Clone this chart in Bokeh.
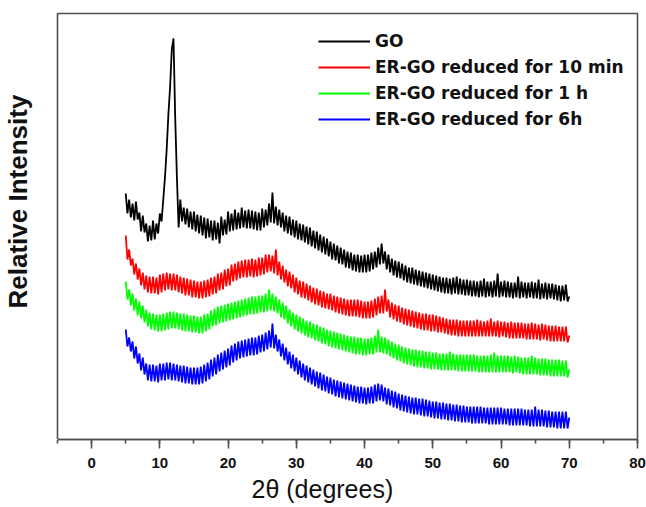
import numpy as np
from bokeh.plotting import figure
from bokeh.models import (Range1d, SingleIntervalTicker, FixedTicker, Legend,
                          LegendItem, Title, ColumnDataSource)
from bokeh.embed import file_html
from bokeh.resources import INLINE

# ---------------- data (arbitrary intensity units) ----------
series_names = ["GO", "ER-GO reduced for 10 min", "ER-GO reduced for 1 h",
                "ER-GO reduced for 6h"]
series_colors = ["#000000", "#ff0000", "#00ff00", "#0000ff"]

# 2theta sampling: 5.00, 5.25, ... 70.00 (one group of four = one degree)
two_theta_start = 5.0
two_theta_step = 0.25

go_y = [
    246, 226, 240, 222,  236, 219, 238, 220,  227, 208, 224, 207,  216, 198, 214, 199,  219, 200, 216, 206,
    226, 218, 240, 262,  290, 325, 352, 390,  401, 322, 262, 212,  240, 218, 232, 215,  231, 212, 228, 210,
    228, 208, 225, 206,  224, 204, 222, 201,  221, 202, 219, 199,  219, 200, 217, 196,  223, 204, 220, 205,
    228, 208, 226, 209,  230, 210, 227, 211,  232, 212, 229, 211,  230, 211, 229, 210,  228, 209, 227, 209,
    231, 212, 230, 214,  236, 217, 247, 216,  233, 214, 230, 212,  227, 208, 224, 206,  223, 204, 220, 202,
    219, 200, 216, 199,  215, 197, 213, 195,  212, 193, 209, 191,  208, 189, 205, 187,  203, 185, 201, 183,
    198, 180, 196, 179,  194, 176, 192, 175,  190, 172, 188, 171,  187, 169, 185, 168,  185, 167, 184, 167,
    185, 167, 185, 168,  187, 170, 188, 172,  192, 175, 196, 176,  188, 170, 185, 167,  181, 164, 179, 162,
    178, 161, 176, 159,  174, 157, 172, 156,  172, 155, 170, 154,  169, 153, 168, 152,  167, 151, 166, 150,
    165, 149, 164, 148,  163, 147, 162, 146,  162, 146, 161, 145,  162, 146, 163, 145,  161, 145, 160, 144,
    160, 144, 159, 143,  159, 143, 158, 142,  159, 143, 161, 142,  158, 143, 158, 142,  159, 143, 166, 142,
    158, 143, 159, 142,  158, 142, 157, 141,  157, 142, 163, 141,  158, 142, 157, 141,  157, 142, 158, 141,
    157, 141, 160, 140,  156, 141, 157, 140,  156, 141, 156, 140,  155, 139, 154, 138,  154, 139, 155, 138,
    143]

red_y = [
    204, 180, 190, 174,  181, 165, 176, 160,  171, 154, 167, 150,  164, 147, 163, 146,  163, 146, 162, 145,
    165, 147, 166, 149,  167, 150, 166, 149,  166, 149, 165, 147,  163, 146, 162, 144,  161, 144, 160, 142,
    159, 142, 158, 141,  158, 141, 159, 142,  160, 143, 162, 145,  163, 146, 166, 149,  167, 150, 170, 153,
    171, 154, 175, 158,  176, 159, 178, 161,  179, 162, 180, 162,  180, 163, 181, 162,  180, 163, 182, 164,
    182, 165, 185, 167,  185, 168, 184, 166,  190, 164, 178, 160,  174, 157, 170, 153,  168, 151, 165, 147,
    162, 145, 159, 142,  158, 141, 156, 139,  154, 137, 152, 135,  151, 134, 149, 132,  148, 131, 146, 130,
    146, 129, 144, 127,  143, 126, 142, 125,  141, 124, 140, 123,  140, 123, 140, 123,  140, 122, 139, 121,
    138, 121, 138, 121,  139, 122, 141, 124,  143, 126, 144, 126,  150, 128, 140, 122,  137, 120, 135, 118,
    134, 117, 132, 115,  131, 114, 130, 113,  129, 112, 128, 111,  127, 110, 126, 109,  126, 109, 125, 108,
    125, 108, 124, 107,  123, 107, 122, 106,  121, 105, 120, 104,  120, 104, 120, 103,  119, 103, 119, 103,
    119, 103, 119, 103,  119, 103, 120, 103,  119, 103, 118, 103,  119, 103, 121, 103,  118, 103, 119, 102,
    118, 103, 118, 102,  117, 101, 118, 101,  117, 101, 117, 101,  117, 101, 116, 100,  116, 100, 117, 100,
    116, 100, 115, 99,   116, 100, 115, 99,   114, 98, 114, 98,    114, 98, 113, 98,    113, 98, 113, 97,
    104]

green_y = [
    158, 140, 150, 134,  146, 129, 141, 124,  138, 121, 134, 117,  130, 113, 127, 110,  126, 109, 125, 108,
    125, 108, 126, 109,  127, 110, 128, 111,  128, 111, 127, 110,  126, 109, 126, 108,  125, 108, 124, 107,
    124, 107, 123, 106,  123, 106, 125, 108,  126, 110, 129, 113,  131, 114, 133, 116,  134, 117, 135, 118,
    136, 119, 137, 120,  138, 121, 139, 122,  140, 123, 141, 124,  142, 125, 143, 125,  143, 126, 144, 127,
    144, 127, 146, 128,  150, 129, 146, 128,  143, 126, 140, 122,  137, 120, 134, 116,  130, 113, 127, 110,
    125, 108, 123, 106,  121, 104, 119, 102,  118, 101, 116, 99,   115, 98, 113, 96,    112, 95, 110, 93,
    109, 92, 108, 91,    107, 90, 106, 89,    105, 88, 104, 87,    103, 86, 103, 85,    102, 85, 102, 84,
    101, 84, 101, 85,    102, 85, 104, 87,    110, 87, 103, 86,    102, 85, 100, 83,    98, 81, 96, 79,
    95, 78, 93, 76,      92, 75, 91, 74,      90, 73, 90, 72,      89, 72, 89, 71,      88, 71, 88, 70,
    87, 70, 87, 70,      86, 69, 86, 69,      86, 69, 88, 69,      86, 69, 85, 68,      85, 68, 85, 68,
    85, 68, 85, 68,      85, 68, 84, 67,      84, 67, 84, 67,      84, 67, 85, 67,      87, 67, 84, 67,
    84, 67, 84, 67,      84, 67, 83, 66,      84, 67, 83, 66,      82, 65, 82, 65,      82, 65, 84, 65,
    82, 65, 81, 64,      81, 64, 81, 64,      80, 63, 80, 63,      80, 63, 80, 63,      79, 63, 79, 62,
    70]

blue_y = [
    110, 93, 102, 88,    98, 81, 93, 76,      86, 69, 82, 65,      76, 59, 75, 58,      75, 58, 74, 57,
    76, 59, 76, 59,      77, 60, 77, 59,      76, 59, 75, 58,      74, 57, 74, 56,      73, 56, 72, 55,
    72, 55, 72, 55,      73, 56, 75, 58,      77, 60, 80, 63,      82, 65, 85, 68,      87, 70, 89, 72,
    91, 74, 94, 77,      96, 79, 98, 81,      99, 82, 100, 83,     101, 84, 102, 84,    102, 85, 104, 87,
    105, 88, 107, 90,    109, 92, 116, 91,    105, 88, 100, 83,    96, 79, 92, 75,      88, 71, 85, 68,
    82, 65, 79, 62,      76, 59, 74, 57,      72, 55, 70, 53,      68, 51, 67, 49,      65, 48, 63, 46,
    62, 45, 60, 43,      59, 42, 58, 41,      57, 40, 56, 39,      55, 38, 54, 37,      53, 36, 53, 36,
    52, 35, 52, 36,      53, 36, 55, 38,      56, 39, 55, 38,      52, 35, 51, 34,      49, 32, 48, 31,
    46, 29, 45, 28,      44, 27, 43, 26,      42, 25, 42, 25,      41, 24, 41, 23,      40, 23, 39, 22,
    38, 21, 38, 21,      37, 20, 37, 20,      36, 19, 36, 19,      35, 18, 35, 18,      34, 17, 34, 17,
    33, 17, 33, 16,      33, 16, 33, 16,      33, 16, 32, 16,      32, 15, 32, 15,      32, 15, 32, 15,
    32, 15, 31, 15,      31, 14, 31, 14,      31, 14, 31, 14,      31, 14, 30, 14,      30, 13, 30, 13,
    33, 13, 30, 13,      30, 13, 29, 12,      29, 12, 28, 12,      28, 11, 28, 11,      28, 11, 28, 11,
    22]

x_tick_interval = 10
x_title = "2\u03b8 (degrees)"
y_title = "Relative Intensity"

# ---------------- build ----------------
all_y = [go_y, red_y, green_y, blue_y]
for ys in all_y:
    assert len(ys) == 261, len(ys)
two_theta = [two_theta_start + two_theta_step * i for i in range(len(go_y))]

p = figure(width=646, height=507, output_backend="svg", toolbar_location=None,
           x_range=Range1d(-5, 80), y_range=Range1d(0, 426),
           min_border_left=56, min_border_right=9, min_border_top=13,
           min_border_bottom=68)
p.xgrid.visible = False
p.ygrid.visible = False
p.outline_line_color = "#505050"
p.outline_line_width = 1.6
p.background_fill_color = "white"
p.border_fill_color = "white"

xa = p.xaxis[0]
xa.ticker = SingleIntervalTicker(interval=x_tick_interval, num_minor_ticks=2)
xa.axis_line_color = "#505050"
xa.axis_line_width = 1.6
xa.major_tick_line_color = "#505050"
xa.major_tick_line_width = 1.6
xa.minor_tick_line_color = "#505050"
xa.minor_tick_line_width = 1.6
xa.major_tick_in = 0
xa.major_tick_out = 9
xa.minor_tick_in = 0
xa.minor_tick_out = 4
xa.major_label_standoff = 9
xa.major_label_text_font = "Liberation Sans"
xa.major_label_text_font_style = "bold"
xa.major_label_text_font_size = "15px"
xa.major_label_text_color = "#111111"

# left axis: unlabelled; a single white tick at the baseline only reserves
# room between the frame and the vertical title
ya = p.yaxis[0]
ya.ticker = FixedTicker(ticks=[0])
ya.major_label_overrides = {0: ""}
ya.major_label_text_alpha = 0
ya.major_label_standoff = 0
ya.axis_line_color = None
ya.major_tick_line_color = "white"
ya.major_tick_in = 0
ya.major_tick_out = 25
ya.minor_tick_line_color = None
ya.minor_tick_in = 0
ya.minor_tick_out = 0

renderers = []
for ys, col in zip(all_y, series_colors):
    src = ColumnDataSource(dict(x=two_theta, y=ys))
    renderers.append(p.line("x", "y", source=src, line_color=col, line_width=1.8))

legend = Legend(items=[LegendItem(label=n, renderers=[r])
                       for n, r in zip(series_names, renderers)],
                location=(261, 310), orientation="vertical",
                glyph_width=52, glyph_height=20, label_height=20,
                spacing=6, padding=0, margin=0, label_standoff=5,
                border_line_color=None, background_fill_alpha=0,
                label_text_font="DejaVu Sans", label_text_font_style="bold",
                label_text_font_size="17px", label_text_color="#111111")
p.add_layout(legend)

p.add_layout(Title(text=x_title, align="left", offset=194, standoff=4,
                   text_font="Liberation Sans", text_font_style="normal",
                   text_font_size="25px", text_color="#111111"), "below")
p.add_layout(Title(text=y_title, align="left", offset=131, standoff=0,
                   text_font="Liberation Sans", text_font_style="bold",
                   text_font_size="26px", text_color="#111111"), "left")

open("out.html", "w").write(file_html(p, INLINE))
